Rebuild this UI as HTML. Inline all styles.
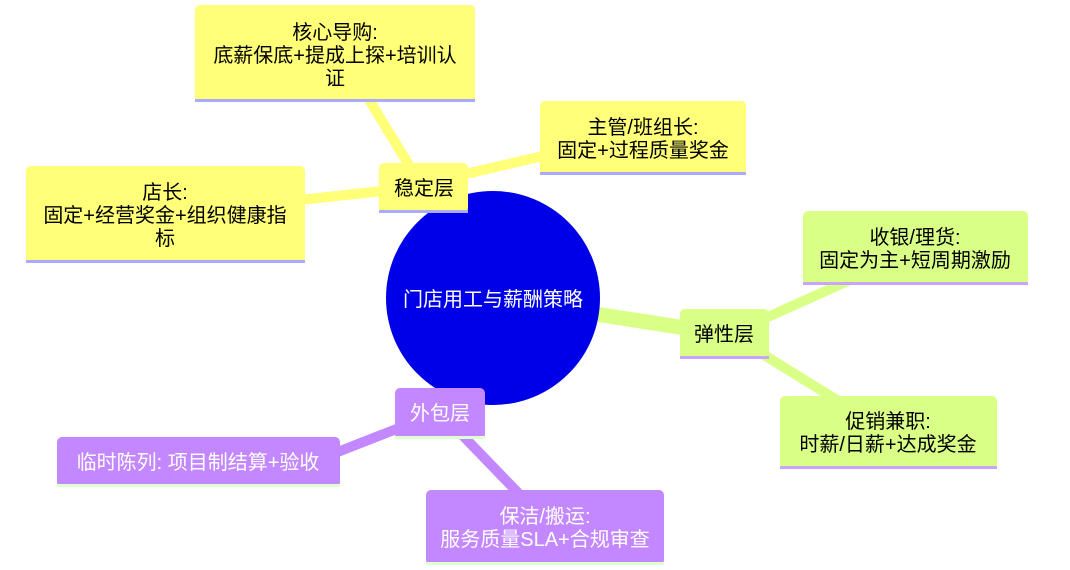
<!DOCTYPE html>
<html><head><meta charset="utf-8"><style>
body{margin:0;background:#fff;}
svg{display:block;font-family:"Liberation Sans","Noto Sans CJK SC",sans-serif;}
text{font-size:20px;text-anchor:middle;}
</style></head><body>
<svg width="1070" height="570" viewBox="0 0 1070 570">
<g stroke-linecap="round">
<line x1="493" y1="298" x2="424" y2="188" stroke="#ffff78" stroke-width="15"/>
<line x1="415" y1="175" x2="368" y2="98" stroke="#ffff78" stroke-width="10"/>
<line x1="440" y1="180" x2="560" y2="152" stroke="#ffff78" stroke-width="10"/>
<line x1="410" y1="188" x2="300" y2="200" stroke="#ffff78" stroke-width="10"/>
<line x1="493" y1="298" x2="724" y2="334" stroke="#d9ff87" stroke-width="15"/>
<line x1="730" y1="334" x2="850" y2="280" stroke="#d9ff87" stroke-width="10"/>
<line x1="730" y1="334" x2="845" y2="405" stroke="#d9ff87" stroke-width="10"/>
<line x1="493" y1="298" x2="440" y2="412" stroke="#c388ff" stroke-width="15"/>
<line x1="440" y1="412" x2="330" y2="455" stroke="#c388ff" stroke-width="10"/>
<line x1="440" y1="412" x2="525" y2="500" stroke="#c388ff" stroke-width="10"/>
</g>
<circle cx="493" cy="298" r="107" fill="#0000e8"/>
<text x="493" y="306" fill="#fff">门店用工与薪酬策略</text>

<rect x="379" y="163" width="89" height="50" rx="5" fill="#ffff78"/><rect x="379" y="210" width="89" height="3" fill="#aaaaff"/>
<text x="424" y="195">稳定层</text>
<rect x="195" y="5" width="280" height="97" rx="5" fill="#ffff78"/><rect x="195" y="99" width="280" height="3" fill="#aaaaff"/>
<text x="335" y="39">核心导购:</text><text x="335" y="62">底薪保底+提成上探+培训认</text><text x="335" y="85">证</text>
<rect x="540" y="101" width="206" height="74" rx="5" fill="#ffff78"/><rect x="540" y="172" width="206" height="3" fill="#aaaaff"/>
<text x="643" y="134">主管/班组长:</text><text x="643" y="157">固定+过程质量奖金</text>
<rect x="26" y="166" width="279" height="97" rx="5" fill="#ffff78"/><rect x="26" y="260" width="279" height="3" fill="#aaaaff"/>
<text x="165" y="199">店长:</text><text x="165" y="222">固定+经营奖金+组织健康指</text><text x="165" y="245">标</text>

<rect x="680" y="309" width="89" height="50" rx="5" fill="#d9ff87"/><rect x="680" y="356" width="89" height="3" fill="#c9a4ff"/>
<text x="724" y="341">弹性层</text>
<rect x="803" y="211" width="225" height="74" rx="5" fill="#d9ff87"/><rect x="803" y="282" width="225" height="3" fill="#c9a4ff"/>
<text x="915" y="244">收银/理货:</text><text x="915" y="267">固定为主+短周期激励</text>
<rect x="780" y="396" width="217" height="73" rx="5" fill="#d9ff87"/><rect x="780" y="466" width="217" height="3" fill="#c9a4ff"/>
<text x="888" y="428">促销兼职:</text><text x="888" y="451">时薪/日薪+达成奖金</text>

<rect x="395" y="388" width="90" height="51" rx="5" fill="#c388ff"/><rect x="395" y="436" width="90" height="3" fill="#e0ffd0"/>
<text x="440" y="420" fill="#fff">外包层</text>
<rect x="57" y="437" width="283" height="50" rx="5" fill="#c388ff"/><rect x="57" y="484" width="283" height="3" fill="#e0ffd0"/>
<text x="198" y="469" fill="#fff">临时陈列: 项目制结算+验收</text>
<rect x="426" y="490" width="238" height="75" rx="5" fill="#c388ff"/><rect x="426" y="562" width="238" height="3" fill="#e0ffd0"/>
<text x="545" y="523" fill="#fff">保洁/搬运:</text><text x="545" y="546" fill="#fff">服务质量SLA+合规审查</text>
</svg>
</body></html>
